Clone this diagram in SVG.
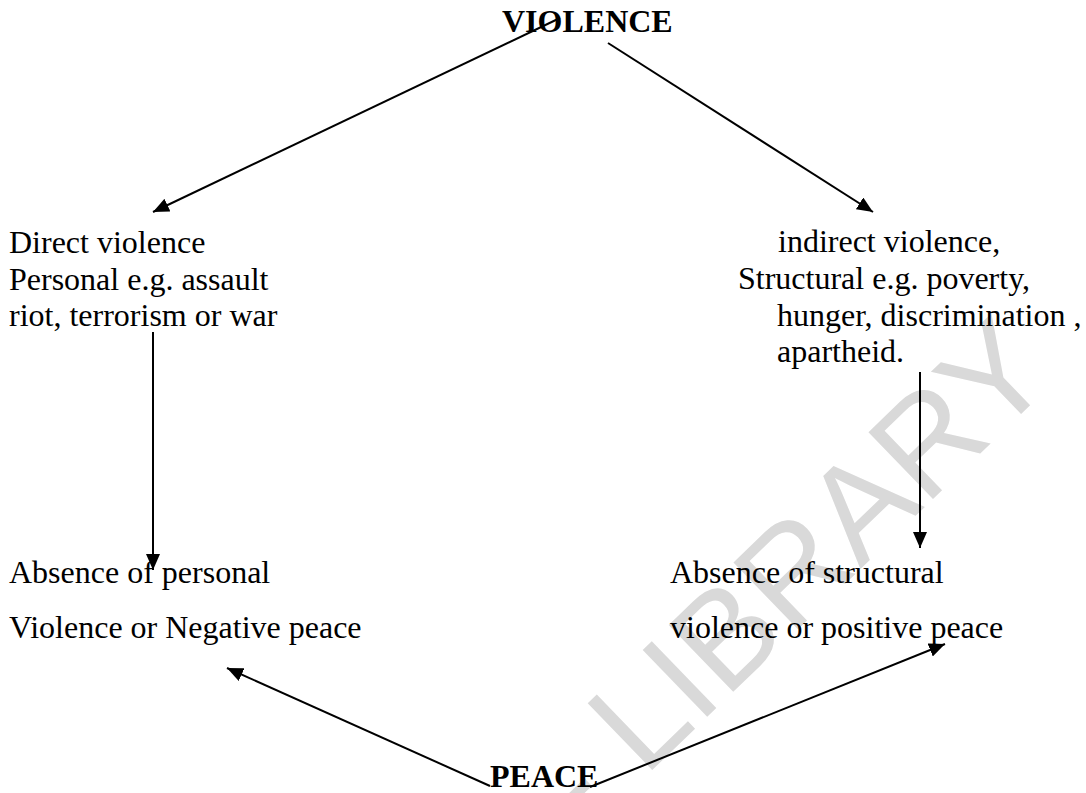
<svg xmlns="http://www.w3.org/2000/svg" width="1086" height="793" viewBox="0 0 1086 793">
<style>
.t{font-family:"Liberation Serif","Times New Roman",serif;font-size:32px;fill:#000}
.b{font-weight:bold}
.wm{font-family:"Liberation Sans",Arial,sans-serif;font-size:135px;fill:#d9d9d9}
.c{stroke:#000;stroke-width:2;fill:none;marker-end:url(#ah)}
</style>
<defs>
<marker id="ah" markerUnits="userSpaceOnUse" markerWidth="18" markerHeight="14" refX="16" refY="7" orient="auto">
<path d="M0,0 L16,7 L0,14 Z" fill="#000"/>
</marker>
</defs>
<rect width="1086" height="793" fill="#fff"/>
<text class="wm" transform="translate(585,835) rotate(-44)">- LIBRARY</text>
<g id="connectors">
<line class="c" x1="560" y1="18" x2="153" y2="212"/>
<line class="c" x1="608" y1="43" x2="873" y2="212"/>
<line class="c" x1="153" y1="332" x2="153" y2="570"/>
<line class="c" x1="920" y1="372" x2="920" y2="548"/>
<line class="c" x1="490" y1="786" x2="227" y2="668"/>
<line class="c" x1="590" y1="787" x2="945" y2="644"/>
</g>
<g id="violence"><text class="t b" x="502" y="32">VIOLENCE</text></g>
<g id="direct">
<text class="t" x="9" y="253">Direct violence</text>
<text class="t" x="9" y="289.5">Personal e.g. assault</text>
<text class="t" x="9" y="326">riot, terrorism or war</text>
</g>
<g id="indirect">
<text class="t" x="778" y="252">indirect violence,</text>
<text class="t" x="738" y="289">Structural e.g. poverty,</text>
<text class="t" x="777" y="326">hunger, discrimination ,</text>
<text class="t" x="777" y="362">apartheid.</text>
</g>
<g id="negative">
<text class="t" x="9" y="583">Absence of personal</text>
<text class="t" x="9" y="638">Violence or Negative peace</text>
</g>
<g id="positive">
<text class="t" x="670" y="583">Absence of structural</text>
<text class="t" x="670" y="638">violence or positive peace</text>
</g>
<g id="peace"><text class="t b" x="490" y="787">PEACE</text></g>
</svg>
